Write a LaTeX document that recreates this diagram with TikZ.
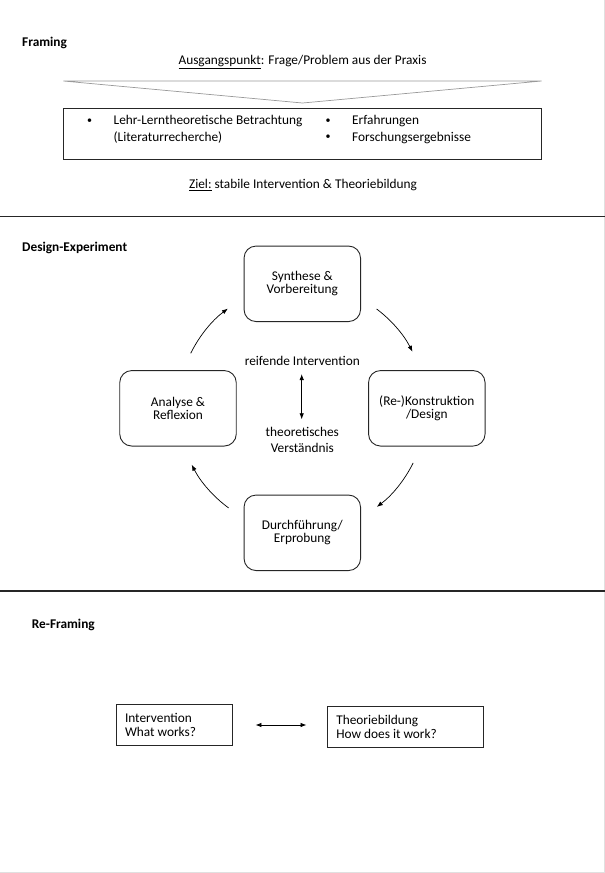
\documentclass[tikz,border=0pt]{standalone}
\usepackage{fontspec}
\setmainfont{Carlito}
\usetikzlibrary{arrows.meta}
\begin{document}
\begin{tikzpicture}[x=1pt,y=-1pt,
  every node/.style={font=\fontsize{13.33}{16.3}\selectfont, inner sep=0pt},
  sectiontitle/.style={font=\fontsize{13.33}{16.3}\selectfont\bfseries, anchor=west},
  funnel/.style={draw=black!40, line width=0.7pt},
  framebox/.style={draw=black!85, line width=0.9pt, minimum width=478.4pt, minimum height=51pt},
  bulletmark/.style={font=\fontsize{10}{12}\selectfont},
  cyclebox/.style={draw=black!85, line width=0.9pt, rounded corners=12pt,
    minimum width=116.5pt, minimum height=75.5pt, align=center,
    font=\fontsize{13.33}{13.3}\selectfont},
  rbox/.style={draw=black!85, line width=0.9pt, align=flush left, inner xsep=9pt,
    font=\fontsize{13.33}{14}\selectfont},
  cyclearrow/.style={draw=black, line width=0.7pt, -{Latex[length=6pt,width=4.5pt]}},
  dblarrow/.style={draw=black, line width=0.8pt, {Latex[length=6pt,width=4.5pt]}-{Latex[length=6pt,width=4.5pt]}},
  sectionline/.style={draw=black!85, line width=1.1pt},
  pageedge/.style={draw=black!12, line width=1pt}
]
\useasboundingbox (0,0) rectangle (605,873);

% page edges
\draw[pageedge] (604.5,0) -- (604.5,873);
\draw[pageedge] (0,872.5) -- (605,872.5);

% ---------- Framing ----------
\node[sectiontitle] (tframing) at (22,43) {Framing};
\node (ausgang) at (302.5,62) {\underline{Ausgangspunkt}: Frage/Problem aus der Praxis};
\coordinate (fl) at (63.3,81);
\coordinate (fr) at (541.7,81);
\coordinate (fa) at (302.5,103);
\draw[funnel] (fl) -- (fr) -- (fa) -- cycle;
\node[framebox] (fbox) at (302.5,133.8) {};
\node[bulletmark] (b1) at (89.5,121) {•};
\node[anchor=west, align=flush left, font=\fontsize{13.33}{16.6}\selectfont] (l1) at (113.5,129.5)
  {Lehr-Lerntheoretische Betrachtung\\(Literaturrecherche)};
\node[bulletmark] (b2) at (328,121) {•};
\node[bulletmark] (b3) at (328,137.6) {•};
\node[anchor=west, align=flush left, font=\fontsize{13.33}{16.6}\selectfont] (l2) at (352,129.5)
  {Erfahrungen\\Forschungsergebnisse};
\node (ziel) at (303,185.5) {\underline{Ziel:} stabile Intervention \& Theoriebildung};

\draw[sectionline] (0,216.7) -- (605,216.7);

% ---------- Design-Experiment ----------
\node[sectiontitle] (tdesign) at (22,247.5) {Design-Experiment};
\node[cyclebox] (syn) at (302.3,283.8) {Synthese \&\\Vorbereitung};
\node[cyclebox] (kon) at (426.8,408.3) {(Re-)Konstruktion\\/Design};
\node[cyclebox] (ana) at (178,408.3) {Analyse \&\\Reflexion};
\node[cyclebox] (dur) at (302.3,532.8) {Durchführung/\\Erprobung};

\coordinate (cc) at (302,408);
\path (cc) ++(-53:124) coordinate (a1);
\path (cc) ++(26.3:124) coordinate (a2);
\path (cc) ++(126.3:124) coordinate (a3);
\path (cc) ++(-153.8:124) coordinate (a4);
\draw[cyclearrow] (a1) arc[start angle=-53, end angle=-27, radius=124];
\draw[cyclearrow] (a2) arc[start angle=26.3, end angle=52.9, radius=124];
\draw[cyclearrow] (a3) arc[start angle=126.3, end angle=152.8, radius=124];
\draw[cyclearrow] (a4) arc[start angle=-153.8, end angle=-126.7, radius=124];

\node (reif) at (302.3,360.5) {reifende Intervention};
\node[align=center, font=\fontsize{13.33}{15.6}\selectfont] (theo) at (302.3,440) {theoretisches\\Verständnis};
\coordinate (m1) at (301.7,374);
\coordinate (m2) at (301.7,419.3);
\draw[dblarrow] (m1) -- (m2);

\draw[sectionline] (0,591) -- (605,591);

% ---------- Re-Framing ----------
\node[sectiontitle] (treframing) at (31.7,624.5) {Re-Framing};
\node[rbox, text width=98.7pt, minimum height=40.6pt] (iv) at (174.35,725) {Intervention\\What works?};
\node[rbox, text width=137.7pt, minimum height=40.7pt] (tb) at (405.15,726.65) {Theoriebildung\\How does it work?};
\draw[dblarrow, shorten <=22.3pt, shorten >=20.3pt] (iv.east) -- (iv.east -| tb.west);

\end{tikzpicture}
\end{document}
